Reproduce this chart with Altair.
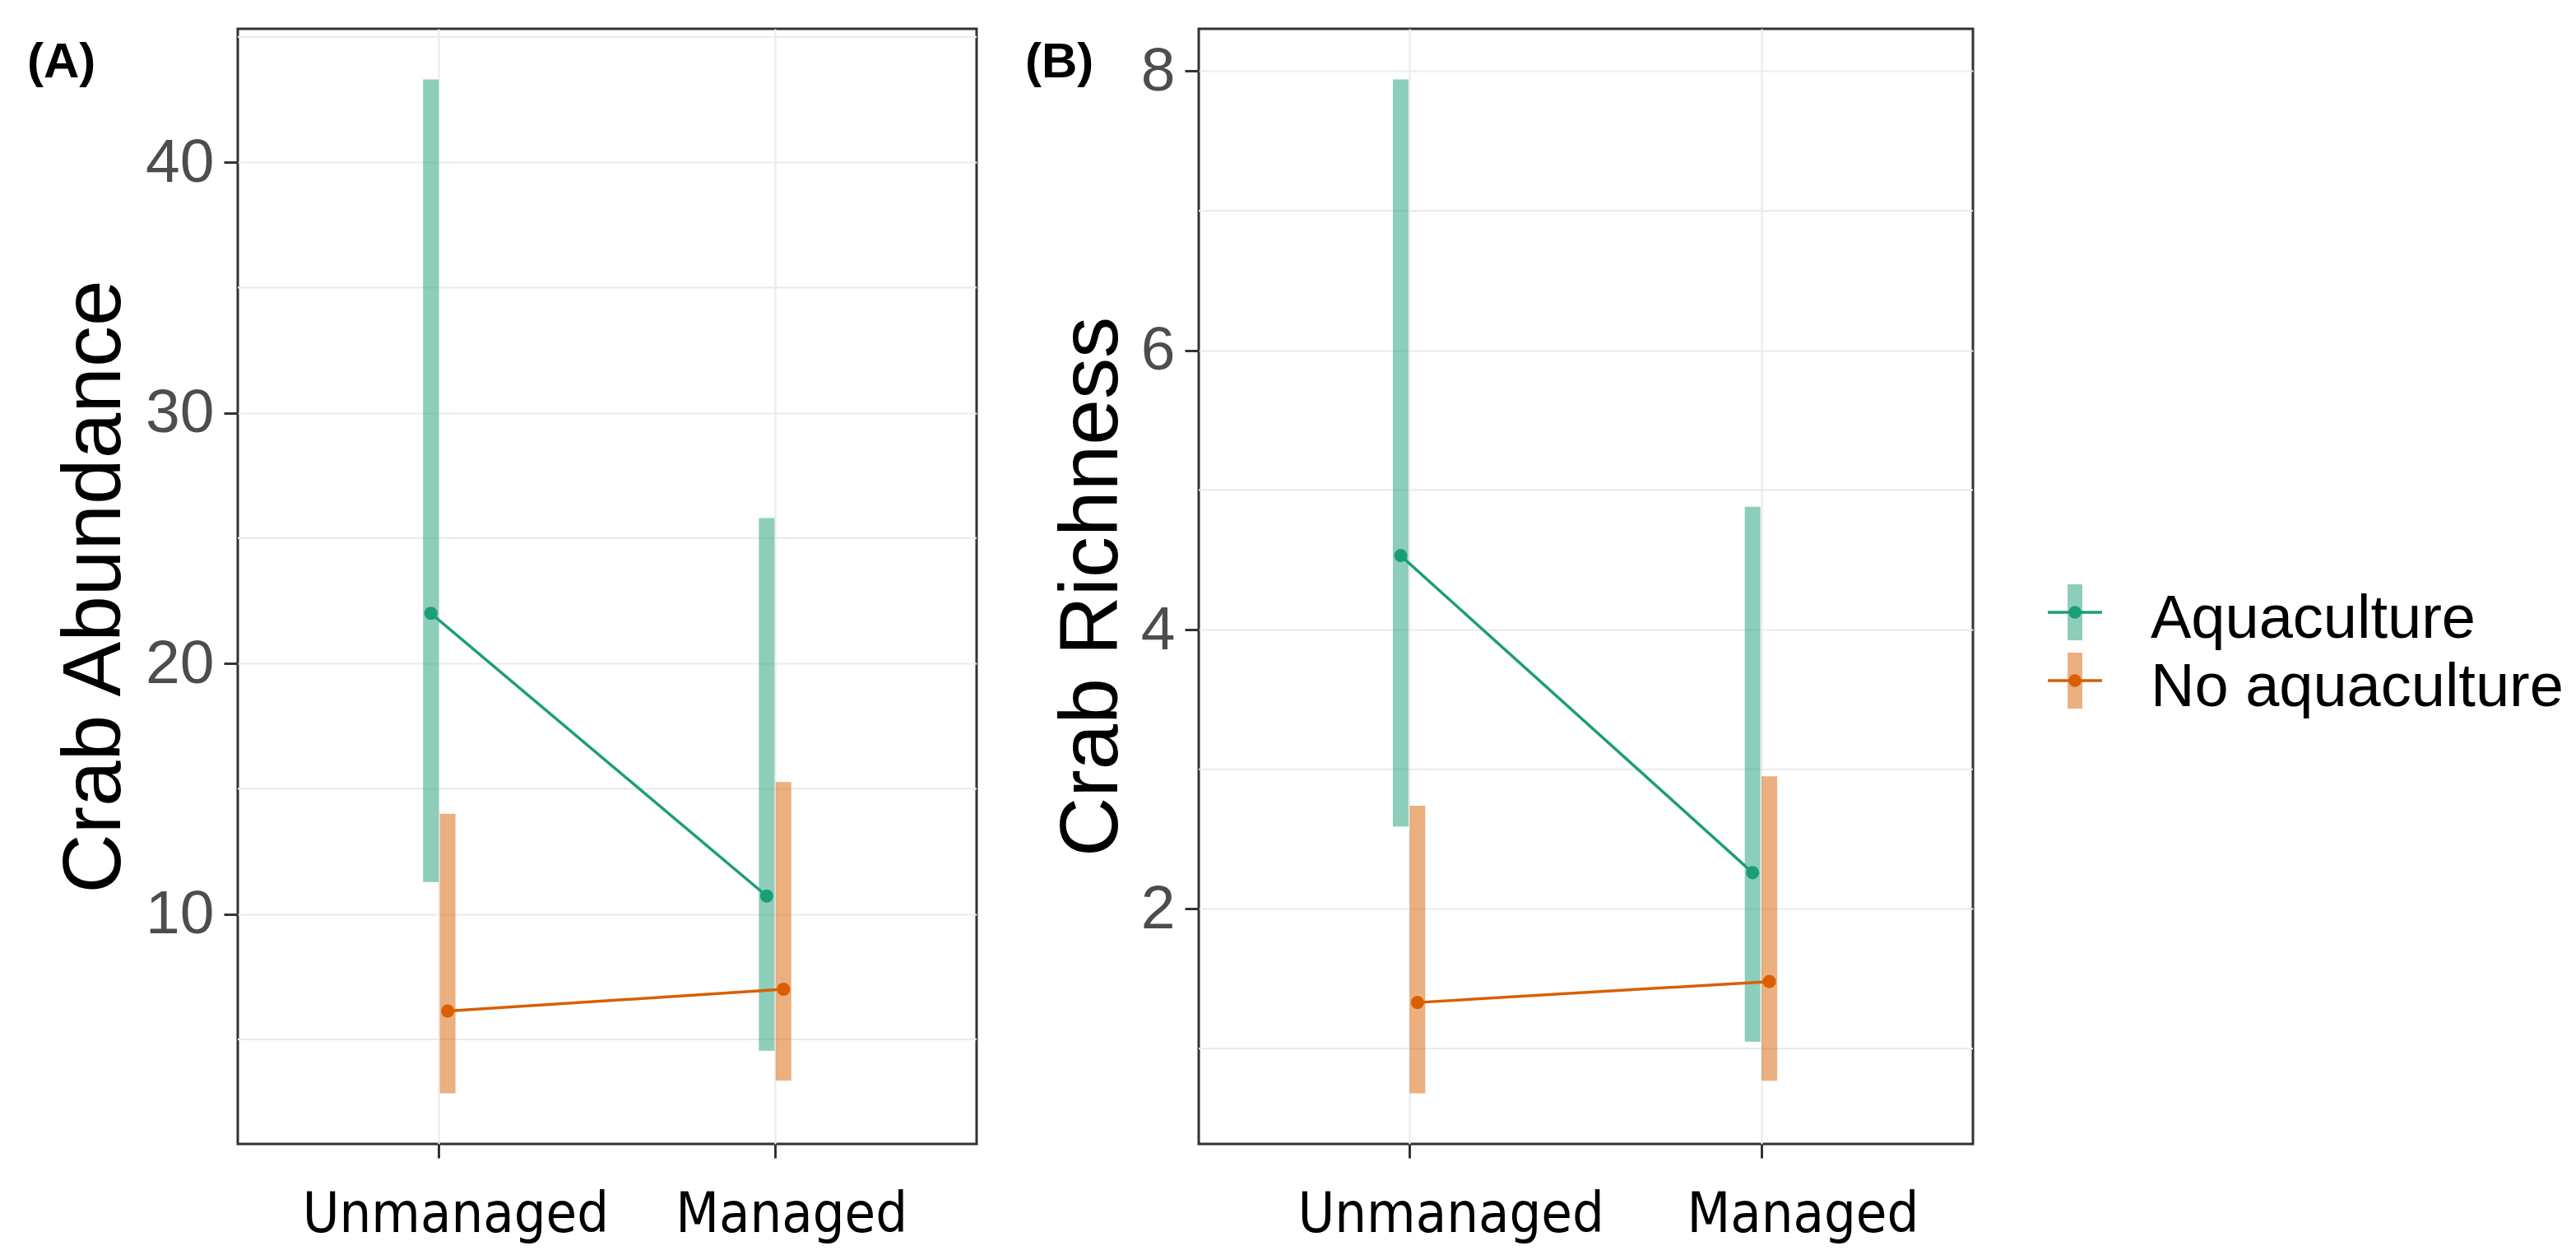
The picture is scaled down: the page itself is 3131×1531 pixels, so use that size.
import altair as alt
import pandas as pd

# ---------------- data ----------------
sites = ["Unmanaged", "Managed"]
groups = ["Aquaculture", "No aquaculture"]
colors = ["#1B9E77", "#D95F02"]

# Panel A: Crab Abundance
abund_aq_mean = [22.0, 10.72]
abund_aq_lo = [11.28, 4.55]
abund_aq_hi = [43.3, 25.8]
abund_no_mean = [6.13, 7.0]
abund_no_lo = [2.85, 3.36]
abund_no_hi = [14.0, 15.27]

# Panel B: Crab Richness
rich_aq_mean = [4.53, 2.26]
rich_aq_lo = [2.59, 1.05]
rich_aq_hi = [7.94, 4.88]
rich_no_mean = [1.33, 1.48]
rich_no_lo = [0.68, 0.77]
rich_no_hi = [2.74, 2.95]

abund_major = [10, 20, 30, 40]
abund_minor = [5, 15, 25, 35, 45]
rich_major = [2, 4, 6, 8]
rich_minor = [1, 3, 5, 7]

SANS = "Liberation Sans, Arial, sans-serif"
NARROW = "Liberation Sans Narrow, DejaVu Sans Condensed, Roboto Condensed, sans-serif"
GRID = "#EBEBEB"
DARK = "#333333"


def make_df(aq_mean, aq_lo, aq_hi, no_mean, no_lo, no_hi):
    rows = []
    for i, s in enumerate(sites):
        rows.append({"site": s, "group": groups[0], "mean": aq_mean[i], "lo": aq_lo[i], "hi": aq_hi[i]})
        rows.append({"site": s, "group": groups[1], "mean": no_mean[i], "lo": no_lo[i], "hi": no_hi[i]})
    return pd.DataFrame(rows)


def panel(df, ytitle, major, minor, tag, width, tag_x, extent, xlab_offset):
    lo_all = df["lo"].min()
    hi_all = df["hi"].max()
    r = hi_all - lo_all
    dom = [lo_all - 0.05 * r, hi_all + 0.05 * r]

    def yenc(field):
        return alt.Y(
            f"{field}:Q",
            title=ytitle,
            scale=alt.Scale(domain=dom, nice=False, zero=False),
            axis=alt.Axis(
                values=major, grid=True, gridColor=GRID, gridWidth=2.2,
                domain=False, ticks=True, tickSize=17, tickWidth=3, tickColor=DARK,
                labelFont=SANS, labelFontSize=75, labelColor="#4D4D4D", labelPadding=12,
                titleFont=SANS, titleFontSize=100, titleFontWeight="normal", titleColor="#000000",
                titleAngle=270, titleBaseline="alphabetic", titlePadding=30,
                minExtent=extent, maxExtent=extent,
            ),
        )

    xenc = alt.X(
        "site:N",
        sort=sites,
        scale=alt.Scale(domain=sites, paddingInner=0.9, paddingOuter=0.55),
        axis=alt.Axis(
            title=None, bandPosition=0.5, grid=True, gridColor=GRID, gridWidth=2.2,
            domain=False, ticks=True, tickSize=17, tickWidth=3, tickColor=DARK,
            labelFont=NARROW, labelFontSize=68, labelColor="#000000", labelAngle=0,
            labelBaseline="alphabetic", labelPadding=89, labelOffset=xlab_offset,
            labelLimit=2000, labelOverlap=False,
        ),
    )
    xo = alt.XOffset("group:N", scale=alt.Scale(domain=groups, paddingInner=0, paddingOuter=0))
    col = alt.Color("group:N", scale=alt.Scale(domain=groups, range=colors), legend=None)

    base = alt.Chart(df)
    minor_df = pd.DataFrame({"lo": minor})
    minor_grid = alt.Chart(minor_df).mark_rule(color=GRID, strokeWidth=2.2).encode(y=yenc("lo"))
    bars = base.mark_rule(strokeWidth=19, opacity=0.5).encode(
        x=xenc, xOffset=xo, y=yenc("lo"), y2=alt.Y2("hi:Q"), color=col
    )
    lines = base.mark_line(strokeWidth=3.5).encode(
        x=xenc, xOffset=xo, y=yenc("mean"), color=col, detail="group:N"
    )
    points = base.mark_circle(size=260, opacity=1).encode(
        x=xenc, xOffset=xo, y=yenc("mean"), color=col
    )
    tag_df = pd.DataFrame({"tag": [tag]})
    tag_text = alt.Chart(tag_df).mark_text(
        font=SANS, fontSize=60, fontWeight="bold", align="left", baseline="alphabetic", color="#000000"
    ).encode(x=alt.value(tag_x), y=alt.value(59), text="tag:N")

    return alt.layer(minor_grid, bars, lines, points, tag_text).properties(width=width, height=1355)


dfA = make_df(abund_aq_mean, abund_aq_lo, abund_aq_hi, abund_no_mean, abund_no_lo, abund_no_hi)
dfB = make_df(rich_aq_mean, rich_aq_lo, rich_aq_hi, rich_no_mean, rich_no_lo, rich_no_hi)

chartA = panel(dfA, "Crab Abundance", abund_major, abund_minor, "(A)", 898, -256, 114, 20)
chartB = panel(dfB, "Crab Richness", rich_major, rich_minor, "(B)", 941, -211, 70, 50)

# ---------------- manual legend ----------------
leg_df = pd.DataFrame({"group": groups})
leg_y = alt.Y("group:N", scale=alt.Scale(type="point", domain=groups, range=[709, 792], padding=0), axis=None)
leg_col = alt.Color("group:N", scale=alt.Scale(domain=groups, range=colors), legend=None)
leg_base = alt.Chart(leg_df)
leg_bar = leg_base.mark_tick(orient="vertical", thickness=18, size=68, opacity=0.5).encode(
    x=alt.value(67), y=leg_y, color=leg_col
)
leg_line = leg_base.mark_tick(orient="horizontal", thickness=3.5, size=66, opacity=1).encode(
    x=alt.value(67), y=leg_y, color=leg_col
)
leg_pt = leg_base.mark_circle(size=240, opacity=1).encode(x=alt.value(67), y=leg_y, color=leg_col)
leg_txt = leg_base.mark_text(
    font=SANS, fontSize=74, align="left", baseline="alphabetic", dy=31, color="#000000"
).encode(x=alt.value(159), y=leg_y, text="group:N")
legend = alt.layer(leg_bar, leg_line, leg_pt, leg_txt).properties(
    width=640, height=1355, view=alt.ViewBackground(strokeOpacity=0)
)

chart = (
    alt.hconcat(chartA, chartB, legend, spacing=54)
    .properties(padding={"left": 23, "top": 25, "right": 0, "bottom": 0}, background="#FFFFFF")
    .configure_view(stroke=DARK, strokeWidth=3)
)

chart.save("out.html", embed_options={"renderer": "svg", "actions": False})
